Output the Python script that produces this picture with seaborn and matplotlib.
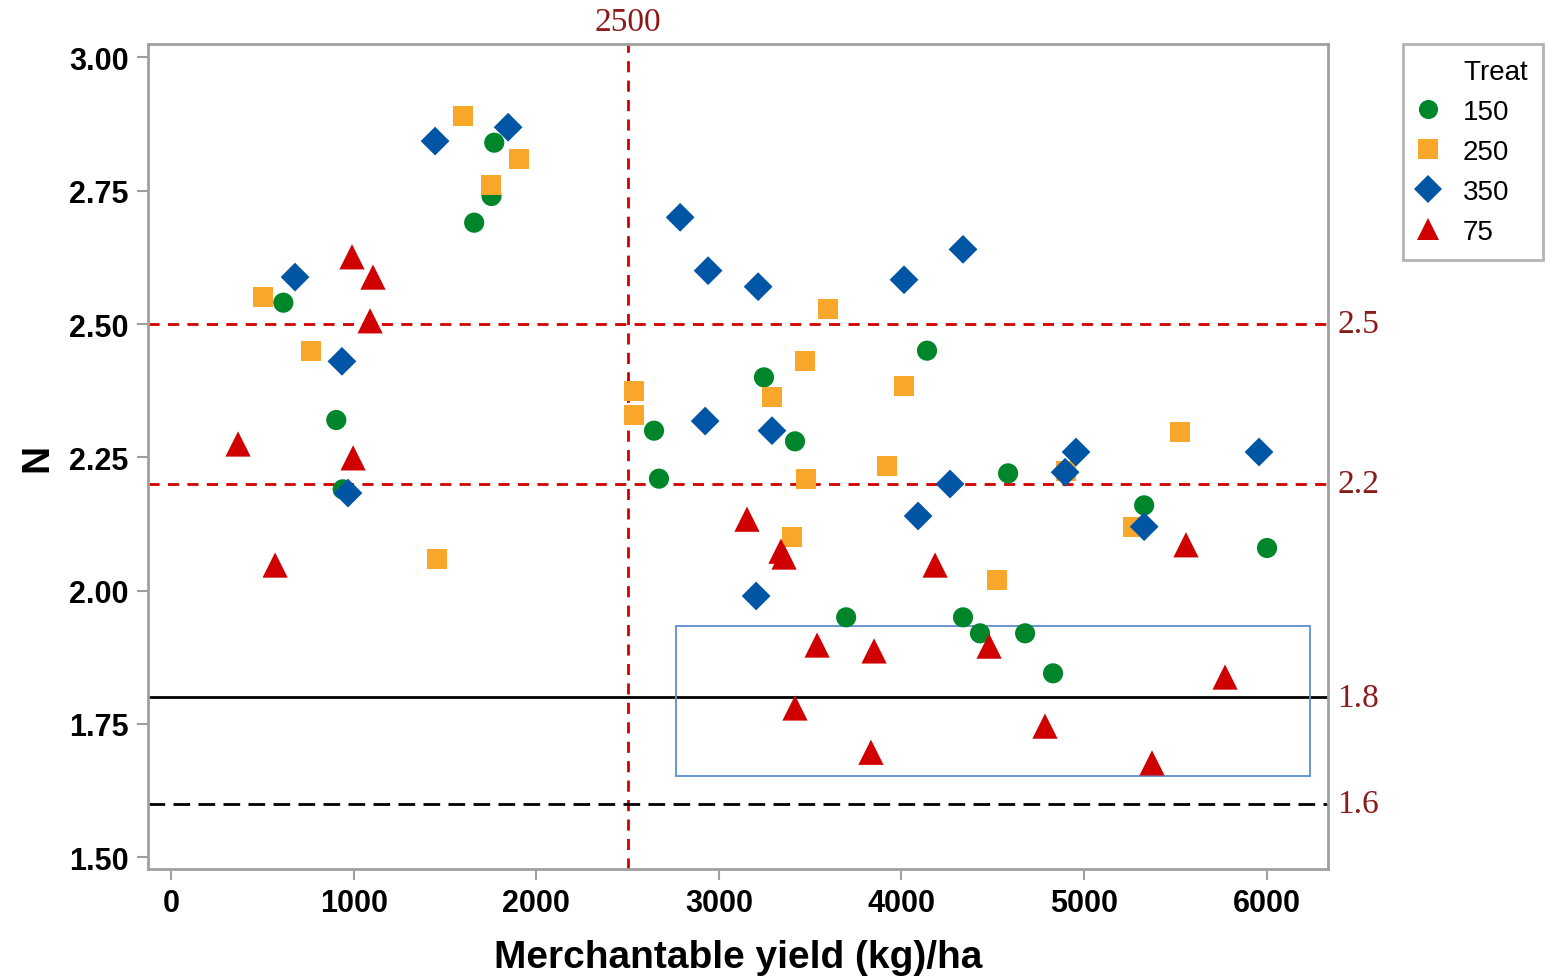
import pandas as pd
import seaborn as sns
import matplotlib.pyplot as plt
from matplotlib.patches import Rectangle
from matplotlib.lines import Line2D

# valores
treat_order = ['150', '250', '350', '75']

yield_150 = [615, 905, 940, 1770, 1755, 1660, 2645, 2672, 3247, 3417,
             4140, 4584, 5329, 6002, 3697, 4337, 4430, 4677, 4830]
n_150 = [2.54, 2.32, 2.19, 2.84, 2.74, 2.69, 2.30, 2.21, 2.40, 2.28,
         2.45, 2.22, 2.16, 2.08, 1.95, 1.95, 1.92, 1.92, 1.845]

yield_250 = [504, 767, 1599, 1906, 1752, 1457, 2536, 2536, 3472, 3598,
             3291, 3478, 4014, 3921, 3401, 4524, 5526, 4900, 5268]
n_250 = [2.55, 2.45, 2.89, 2.81, 2.76, 2.06, 2.374, 2.33, 2.43, 2.528,
         2.363, 2.21, 2.384, 2.234, 2.10, 2.02, 2.297, 2.224, 2.12]

yield_350 = [679, 936, 969, 1446, 1846, 2788, 2941, 3215, 4014, 4337,
             2925, 3291, 4266, 4091, 3204, 4956, 4896, 5329, 5958]
n_350 = [2.588, 2.43, 2.183, 2.843, 2.869, 2.70, 2.60, 2.57, 2.583, 2.64,
         2.318, 2.30, 2.20, 2.14, 1.99, 2.26, 2.222, 2.12, 2.26]

yield_75 = [367, 570, 991, 1106, 1090, 997, 3154, 3340, 3357, 4184,
            5558, 3538, 3850, 4480, 5772, 3417, 4786, 3833, 5372]
n_75 = [2.275, 2.048, 2.626, 2.588, 2.506, 2.249, 2.134, 2.074, 2.063, 2.048,
        2.086, 1.898, 1.887, 1.896, 1.838, 1.78, 1.746, 1.697, 1.677]

ref_h_red = [2.5, 2.2]
ref_v_red = 2500
ref_solid = 1.8
ref_dash = 1.6
box_x = [2766, 6238]
box_y = [1.652, 1.934]

df = pd.concat([
    pd.DataFrame({'yield': yield_150, 'N': n_150, 'Treat': '150'}),
    pd.DataFrame({'yield': yield_250, 'N': n_250, 'Treat': '250'}),
    pd.DataFrame({'yield': yield_350, 'N': n_350, 'Treat': '350'}),
    pd.DataFrame({'yield': yield_75, 'N': n_75, 'Treat': '75'}),
], ignore_index=True)

colores = {'150': '#00862a', '250': '#f9a72b', '350': '#0055a5', '75': '#d00000'}
marcadores = {'150': 'o', '250': 's', '350': 'D', '75': '^'}
tamanos = {'150': 210, '250': 210, '350': 215, '75': 330}

sns.set_style('white')
plt.rcParams['font.family'] = ['Liberation Sans', 'DejaVu Sans']
plt.rcParams['text.color'] = 'black'
plt.rcParams['axes.labelcolor'] = 'black'
plt.rcParams['xtick.color'] = 'black'
plt.rcParams['ytick.color'] = 'black'

fig = plt.figure(figsize=(15.5, 9.79), dpi=100)
ax = fig.add_axes([0.0955, 0.1113, 0.7613, 0.8427])

# lineas de referencia
for yv in ref_h_red:
    ax.axhline(yv, color='#d00000', ls=(0, (4, 3)), lw=2, zorder=1)
ax.axvline(ref_v_red, color='#d00000', ls=(0, (4, 3)), lw=2, zorder=1)
ax.axhline(ref_solid, color='black', lw=2, zorder=1)
ax.axhline(ref_dash, color='black', ls=(0, (6, 3)), lw=2, zorder=1)

ax.add_patch(Rectangle((box_x[0], box_y[0]), box_x[1] - box_x[0], box_y[1] - box_y[0],
                       fill=False, edgecolor='#5b8fd0', lw=1.3, zorder=1))

sns.scatterplot(data=df, x='yield', y='N', hue='Treat', style='Treat',
                hue_order=treat_order, style_order=treat_order,
                palette=colores, markers=marcadores, s=210, linewidth=0,
                ax=ax, zorder=3, legend=False)
# triangulos y rombos algo mas grandes, como en la figura original
ax.collections[-1].set_sizes(df['Treat'].map(tamanos).values)

ax.set_xlim(-126, 6336)
ax.set_ylim(1.478, 3.025)
ax.set_xticks([0, 1000, 2000, 3000, 4000, 5000, 6000])
ax.set_yticks([1.50, 1.75, 2.00, 2.25, 2.50, 2.75, 3.00])
ax.set_yticklabels(['1.50', '1.75', '2.00', '2.25', '2.50', '2.75', '3.00'])

for sp in ax.spines.values():
    sp.set_color('#a0a0a0')
    sp.set_linewidth(2)
ax.tick_params(axis='both', direction='out', length=8, width=1.5, color='#a0a0a0',
               labelcolor='black', labelsize=22, pad=6, bottom=True, left=True)
for lab in ax.get_xticklabels() + ax.get_yticklabels():
    lab.set_fontweight('bold')

ax.set_xlabel('Merchantable yield (kg)/ha', fontsize=28, fontweight='bold', labelpad=15)
ax.set_ylabel('N', fontsize=28, fontweight='bold', labelpad=10)

# etiquetas de las lineas
rojo_osc = '#8b1a1a'
ytr = ax.get_yaxis_transform()
for yv, txt in [(2.5, '2.5'), (2.2, '2.2'), (1.8, '1.8'), (1.6, '1.6')]:
    ax.text(1.008, yv, txt, transform=ytr, color=rojo_osc, fontsize=24,
            family=['Liberation Serif', 'DejaVu Serif'], va='center', ha='left')
ax.text(ref_v_red, 1.008, '2500', transform=ax.get_xaxis_transform(), color=rojo_osc,
        fontsize=24, family=['Liberation Serif', 'DejaVu Serif'], ha='center', va='bottom')

# leyenda
handles = [Line2D([], [], ls='none', marker=marcadores[t], color=colores[t],
                  markeredgewidth=0,
                  markersize=(tamanos[t] ** 0.5) * (0.95 if t != '75' else 0.85))
           for t in treat_order]
leg = ax.legend(handles, treat_order, title='      Treat', loc='upper left',
                bbox_to_anchor=(1.0636, 1.0), borderaxespad=0, frameon=True,
                fancybox=False, fontsize=20, title_fontsize=20, edgecolor='#a0a0a0',
                handletextpad=0.9, handlelength=0.7, borderpad=0.55,
                labelspacing=0.5, alignment='left')
leg.get_frame().set_linewidth(2)

fig.savefig('out.png', dpi=100)
